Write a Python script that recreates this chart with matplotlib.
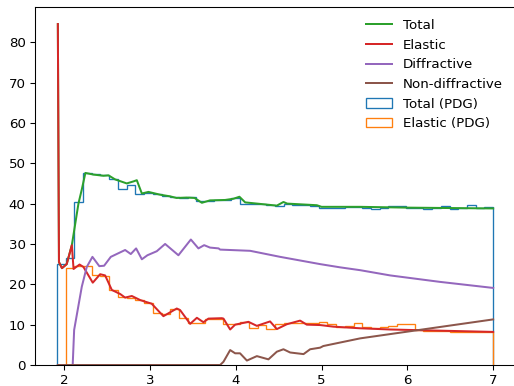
import numpy as np
import matplotlib
matplotlib.use('Agg')
import matplotlib.pyplot as plt

# model curves
total_x = [1.927, 1.94, 1.975, 2.03, 2.09, 2.167, 2.206, 2.248, 2.34, 2.458, 2.517, 2.594,
           2.73, 2.808, 2.847, 2.906, 2.983, 3.12, 3.235, 3.31, 3.43, 3.52, 3.605, 3.70,
           3.876, 3.973, 4.043, 4.11, 4.479, 4.556, 4.60, 4.945, 5.0, 5.45, 6.0, 7.0]
total_y = [84.5, 25.5, 24.0, 25.0, 29.7, 40.0, 43.5, 47.6, 47.2, 46.9, 47.0, 46.0,
           45.0, 45.5, 45.8, 42.5, 42.9, 42.2, 41.8, 41.4, 41.5, 41.4, 40.2, 40.8,
           40.9, 41.2, 41.7, 40.3, 39.5, 40.4, 40.0, 39.6, 39.2, 39.2, 39.0, 38.8]

elastic_x = [1.927, 1.94, 1.975, 2.03, 2.09, 2.11, 2.18, 2.225, 2.334, 2.42, 2.478, 2.556,
             2.653, 2.711, 2.789, 2.886, 2.944, 3.02, 3.157, 3.313, 3.352, 3.469, 3.547,
             3.624, 3.682, 3.838, 3.857, 3.935, 3.993, 4.148, 4.246, 4.40, 4.479, 4.595,
             4.75, 4.828, 4.984, 5.139, 5.45, 5.8, 6.4, 7.0]
elastic_y = [84.5, 25.5, 24.0, 25.0, 29.7, 23.8, 24.9, 24.3, 20.4, 22.5, 22.2, 18.6,
             17.6, 16.7, 17.1, 16.1, 15.7, 15.2, 12.1, 14.0, 13.6, 10.2, 11.7,
             10.6, 11.5, 11.6, 11.5, 8.8, 10.0, 10.7, 9.7, 10.8, 8.9, 10.1,
             11.0, 10.0, 9.9, 9.5, 9.1, 8.8, 8.5, 8.2]

diff_x = [1.927, 2.10, 2.117, 2.206, 2.264, 2.33, 2.41, 2.466, 2.544, 2.711, 2.777, 2.839,
          2.906, 2.971, 3.08, 3.177, 3.332, 3.477, 3.565, 3.632, 3.70, 3.8, 3.818, 4.168,
          4.518, 4.984, 5.217, 5.45, 5.80, 6.38, 7.0]
diff_y = [0, 0, 8.7, 19.4, 24.3, 26.8, 24.5, 24.6, 26.8, 28.5, 27.5, 28.9,
          26.2, 27.2, 28.2, 30.0, 27.2, 31.1, 28.9, 29.7, 29.1, 28.9, 28.6, 28.3,
          26.8, 25.0, 24.2, 23.5, 22.2, 20.6, 19.1]

nondiff_x = [1.927, 3.818, 3.857, 3.935, 3.993, 4.05, 4.13, 4.246, 4.381, 4.479, 4.556,
             4.634, 4.79, 4.867, 4.984, 5.02, 5.45, 7.0]
nondiff_y = [0, 0, 0.8, 3.7, 2.9, 2.9, 1.1, 2.2, 1.4, 3.3, 3.9,
             3.1, 2.7, 3.9, 4.3, 4.7, 6.6, 11.3]

# PDG data, binned
edges = [1.915, 2.017, 2.118, 2.220, 2.322, 2.424, 2.525, 2.627, 2.729, 2.830,
         2.932, 3.034, 3.135, 3.237, 3.339, 3.441, 3.542, 3.644, 3.746, 3.847,
         3.949, 4.051, 4.152, 4.254, 4.356, 4.458, 4.559, 4.661, 4.763, 4.864,
         4.966, 5.068, 5.169, 5.271, 5.373, 5.475, 5.576, 5.678, 5.780, 5.881,
         5.983, 6.085, 6.186, 6.288, 6.390, 6.492, 6.593, 6.695, 6.797, 6.898, 7.000]
pdg_total = [25.1, 26.6, 40.3, 47.5, 47.4, 47.1, 46.0, 43.6, 44.6, 42.5,
             42.6, 42.3, 41.9, 41.7, 41.5, 41.7, 40.6, 40.7, 40.8, 41.0,
             41.4, 40.0, 39.9, 39.8, 39.6, 39.5, 40.0, 39.7, 39.6, 39.4,
             38.9, 38.9, 38.9, 39.1, 39.1, 39.0, 38.7, 39.0, 39.4, 39.4,
             39.0, 39.0, 38.7, 39.0, 39.4, 38.7, 38.9, 39.7, 39.0, 39.1]
# first bin has no elastic data
pdg_elastic = [24.0, 24.5, 24.5, 22.4, 22.0, 18.7, 16.9, 16.6, 16.0,
               15.3, 12.9, 12.7, 14.0, 11.6, 10.3, 10.4, 11.4, 11.5, 10.1,
               10.1, 10.7, 9.2, 9.9, 8.8, 10.1, 10.5, 10.5, 10.4, 10.4,
               10.7, 10.1, 9.5, 9.7, 10.5, 9.5, 9.2, 9.5, 9.7, 10.1,
               10.2, 8.6, 8.5, 8.4, 8.4, 8.2, 8.2, 8.3, 8.2, 8.1]

dpi = 96
fig = plt.figure(figsize=(514/dpi, 386/dpi), dpi=dpi)
ax = fig.add_axes([35/514, 21/386, 480/514, 358/386])

e = np.array(edges)
centers = (e[:-1] + e[1:]) / 2
_, _, h1 = ax.hist(centers, bins=e, weights=pdg_total, histtype='step',
                   color='C0', label='Total (PDG)')
_, _, h2 = ax.hist(centers[1:], bins=e[1:], weights=pdg_elastic, histtype='step',
                   color='C1', label='Elastic (PDG)')

l1, = ax.plot(total_x, total_y, color='C2', label='Total')
l2, = ax.plot(elastic_x, elastic_y, color='C3', label='Elastic')
l3, = ax.plot(diff_x, diff_y, color='C4', label='Diffractive')
l4, = ax.plot(nondiff_x, nondiff_y, color='C5', label='Non-diffractive')

ax.legend(handles=[l1, l2, l3, l4, h1[0], h2[0]], frameon=False, loc='upper right')

fig.savefig('out.png', dpi=dpi)
